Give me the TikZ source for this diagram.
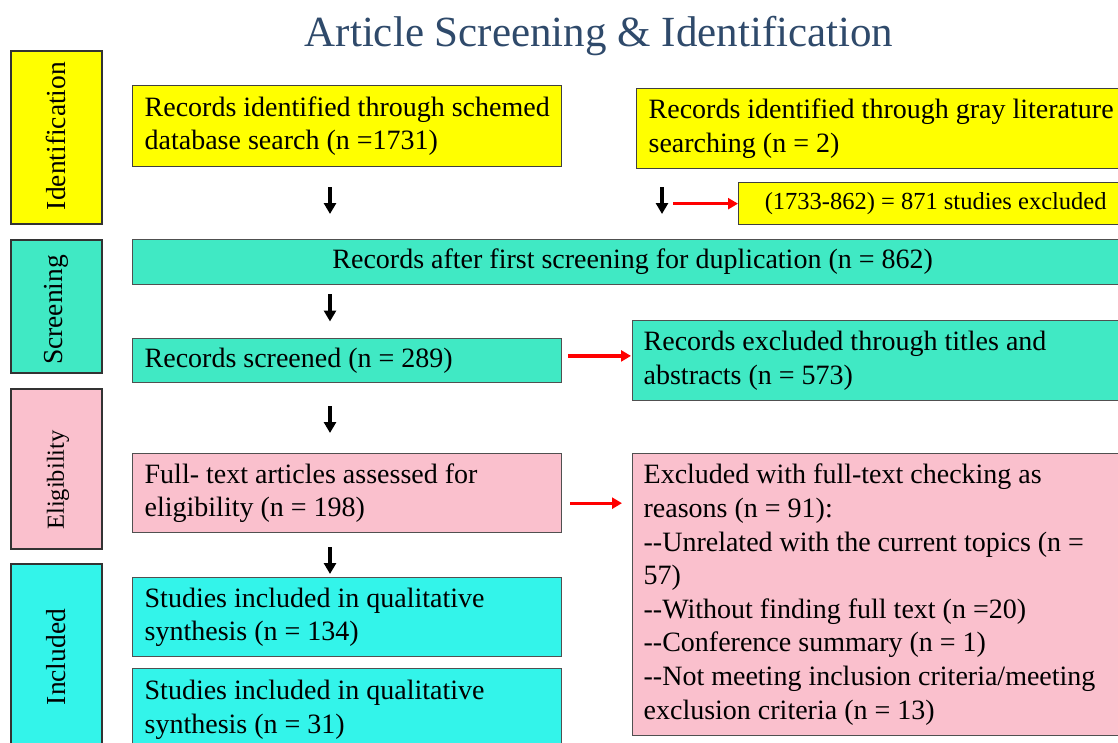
\documentclass[tikz,border=0pt]{standalone}
\usepackage{fontspec}
\setmainfont{Liberation Serif}
\usetikzlibrary{arrows.meta}
\definecolor{yellowc}{HTML}{FFFF00}
\definecolor{tealc}{HTML}{40E9C4}
\definecolor{pinkc}{HTML}{FAC0CD}
\definecolor{cyanc}{HTML}{33F4EA}
\definecolor{titlec}{HTML}{2F4A6B}
\definecolor{edgec}{HTML}{505050}
\newcommand\twohy{-\kern0pt-}
\newcommand\boxfont{\fontsize{28}{33.6}\selectfont}
\newcommand\smallboxfont{\fontsize{24.5}{29}\selectfont}
\newcommand\sidefont{\fontsize{27.5}{33}\selectfont}
\newcommand\titlefont{\fontsize{43}{50}\selectfont}
\begin{document}
\begin{tikzpicture}[x=1pt,y=-1pt,
  box/.style={draw=edgec, line width=1.3pt, inner xsep=12pt, inner ysep=0pt,
    anchor=north west, font=\boxfont, align=left,
    execute at begin node={\spaceskip=0.25em\relax}},
  sidebox/.style={draw=black!80, line width=1.6pt, anchor=north west, inner sep=0pt},
  sidetext/.style={rotate=90, font=\sidefont, inner sep=0pt},
  barrow/.style={draw=black, line width=3.5pt, -{Triangle[width=12pt,length=11pt]}},
  rarrow/.style={draw=red, line width=3.2pt, -{Triangle[width=11pt,length=10pt]}}]
\useasboundingbox (0,0) rectangle (1118,742);
\fill[white] (0,0) rectangle (1118,742);

% title
\node[font=\titlefont, text=titlec, execute at begin node={\spaceskip=0.25em\relax}] (title) at (599,36) {Article Screening \& Identification};

% side labels
\node[sidebox, fill=yellowc, minimum width=91pt, minimum height=173pt] (s1) at (10,50) {};
\node[sidetext] (s1t) at (56,136) {Identification};
\node[sidebox, fill=tealc, minimum width=91pt, minimum height=133pt] (s2) at (10,239) {};
\node[sidetext] (s2t) at (56,310) {Screening};
\node[sidebox, fill=pinkc, minimum width=91pt, minimum height=160pt] (s3) at (10,388) {};
\node[sidetext, font=\smallboxfont] (s3t) at (58,480) {Eligibility};
\node[sidebox, fill=cyanc, minimum width=91pt, minimum height=190pt] (s4) at (10,563) {};
\node[sidetext] (s4t) at (56,657) {Included};

% main boxes
\node[box, draw=black!75, fill=yellowc, minimum width=429pt, text width=405pt, minimum height=81pt] (A) at (132,85)
  {\mbox{Records identified through schemed}\\\mbox{database search (n =1731)}};
\node[box, draw=black!75, fill=yellowc, minimum width=504pt, text width=480pt, minimum height=80pt] (B) at (636,88)
  {\mbox{Records identified through gray literature}\\searching (n = 2)};
\node[box, draw=black!75, fill=yellowc, minimum width=394pt, text width=370pt, minimum height=42pt, align=center,
  font=\smallboxfont] (C) at (738,182)
  {(1733-862) = 871 studies excluded};
\node[box, fill=tealc, minimum width=1000pt, text width=976pt, minimum height=45pt, align=center] (D) at (132,239)
  {Records after first screening for duplication (n = 862)};
\node[box, fill=tealc, minimum width=429pt, text width=405pt, minimum height=44.5pt] (E) at (132,337.5)
  {Records screened (n = 289)};
\node[box, fill=tealc, inner xsep=11pt, minimum width=508pt, text width=486pt, minimum height=80pt] (F) at (632,320)
  {\mbox{Records excluded through titles and}\\abstracts (n = 573)};
\node[box, fill=pinkc, minimum width=429pt, text width=405pt, minimum height=79pt] (G) at (132,453)
  {\mbox{Full- text articles assessed for}\\eligibility (n = 198)};
\node[box, fill=pinkc, inner xsep=11pt, minimum width=508pt, text width=486pt, minimum height=282pt] (H) at (632,453)
  {\mbox{Excluded with full-text checking as}\\reasons (n = 91):\\\mbox{\twohy Unrelated with the current topics (n =}\\57)\\\mbox{\twohy Without finding full text (n =20)}\\\mbox{\twohy Conference summary (n = 1)}\\\mbox{\twohy Not meeting inclusion criteria/meeting}\\\mbox{exclusion criteria (n = 13)}};
\node[box, fill=cyanc, minimum width=429pt, text width=405pt, minimum height=79pt] (I) at (132,577)
  {\mbox{Studies included in qualitative}\\synthesis (n = 134)};
\node[box, fill=cyanc, minimum width=429pt, text width=405pt, minimum height=82pt] (J) at (132,668)
  {\mbox{Studies included in qualitative}\\synthesis (n = 31)};

% arrow columns
\coordinate (cxl) at (330,0);
\coordinate (cxr) at (662,0);
\coordinate (rxs) at (673,0);

\draw[barrow, shorten <=20pt, shorten >=25pt] (A.south -| cxl) -- (D.north -| cxl);
\draw[barrow, shorten <=18pt, shorten >=25pt] (B.south -| cxr) -- (D.north -| cxr);
\draw[barrow, shorten <=9pt, shorten >=16pt] (D.south -| cxl) -- (E.north -| cxl);
\draw[barrow, shorten <=23pt, shorten >=20pt] (E.south -| cxl) -- (G.north -| cxl);
\draw[barrow, shorten <=14pt, shorten >=3pt] (G.south -| cxl) -- (I.north -| cxl);

\draw[rarrow] (C.west -| rxs) -- (C.west);
\draw[rarrow, shorten <=6pt, shorten >=1pt] ([yshift=4.5pt]E.east) -- ([yshift=4.5pt]E.east -| F.west);
\draw[rarrow, shorten <=8pt, shorten >=10pt] ([yshift=-10pt]G.east) -- ([yshift=-10pt]G.east -| H.west);
\end{tikzpicture}
\end{document}
